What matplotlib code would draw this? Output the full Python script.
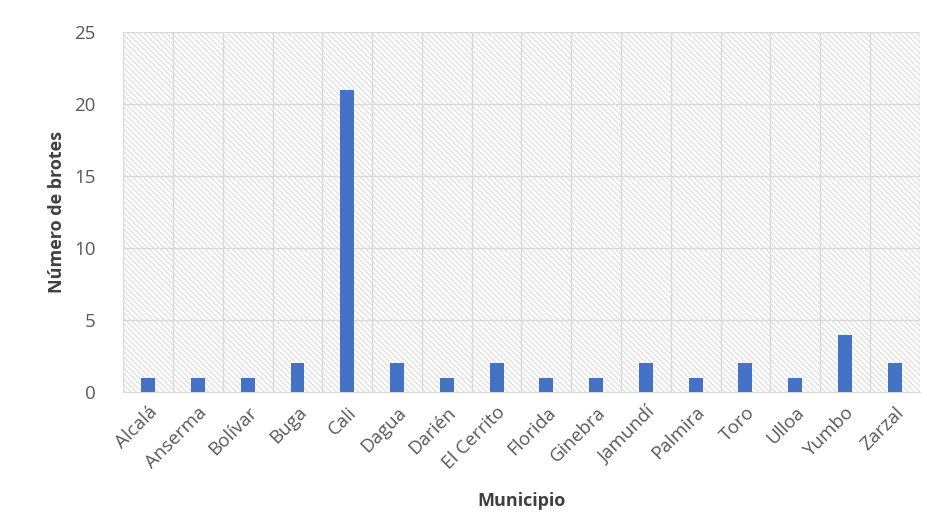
import numpy as np
import matplotlib.pyplot as plt
from matplotlib.patches import Rectangle

municipios = ['Alcalá', 'Anserma', 'Bolívar', 'Buga', 'Cali', 'Dagua', 'Darién',
              'El Cerrito', 'Florida', 'Ginebra', 'Jamundí', 'Palmira', 'Toro',
              'Ulloa', 'Yumbo', 'Zarzal']
brotes = [1, 1, 1, 2, 21, 2, 1, 2, 1, 1, 2, 1, 2, 1, 4, 2]

plt.rcParams['font.family'] = ['Open Sans', 'DejaVu Sans']
plt.rcParams['hatch.color'] = '#dcdcdc'
plt.rcParams['hatch.linewidth'] = 0.8

fig = plt.figure(figsize=(9.27, 5.25), dpi=100)
ax = fig.add_axes([0.133, 0.253, 0.859, 0.686])

x = np.arange(len(municipios))
ax.set_xlim(-0.5, len(municipios) - 0.5)
ax.set_ylim(0, 25)

# hatched plot background
ax.add_patch(Rectangle((0, 0), 1, 1, transform=ax.transAxes, facecolor='white',
                       edgecolor='#dcdcdc', hatch='\\' * 6, linewidth=0, zorder=0))

# grid: horizontal at major ticks, vertical between categories
for yv in range(5, 26, 5):
    ax.axhline(yv, color='#d9d9d9', linewidth=1, zorder=1)
for xv in np.arange(-0.5, len(municipios), 1.0):
    ax.axvline(xv, color='#d9d9d9', linewidth=1, zorder=1)

ax.bar(x, brotes, width=0.28, color='#4472C4', zorder=3)

for s in ['top', 'right', 'left']:
    ax.spines[s].set_visible(False)
ax.spines['bottom'].set_color('#d9d9d9')

ax.set_yticks(range(0, 26, 5))
ax.set_xticks(x)
ax.set_xticklabels(municipios, rotation=45, ha='right', rotation_mode='anchor')
ax.tick_params(axis='both', length=0, colors='#595959', labelsize=13.5)
ax.tick_params(axis='y', pad=20)
ax.tick_params(axis='x', pad=8)

ax.set_ylabel('Número de brotes', fontsize=13, fontweight='bold', color='#404040', labelpad=6)
ax.set_xlabel('Municipio', fontsize=13, fontweight='bold', color='#404040', labelpad=14)

fig.savefig('out.png', dpi=100)
